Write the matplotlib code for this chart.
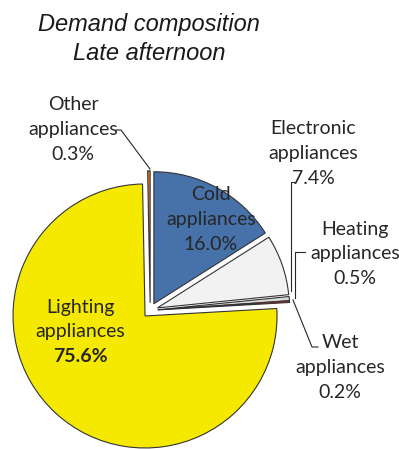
import matplotlib
matplotlib.use('Agg')
import matplotlib.pyplot as plt

# late afternoon demand shares, clockwise from 12 o'clock
names = ["Cold\nappliances", "Electronic\nappliances", "Heating\nappliances",
         "Wet\nappliances", "Lighting\nappliances", "Other\nappliances"]
shares = [16.0, 7.4, 0.5, 0.2, 75.6, 0.3]
colours = ["#4671a9", "#f2f2f2", "#d9d9d9", "#e8211e", "#f5e900", "#ee7f22"]

W, H = 399, 449


def px(x, y):
    # pixel coords (y down) -> axes data (y up)
    return x, H - y


fig = plt.figure(figsize=(W / 100, H / 100), dpi=100)
ax = fig.add_axes([0, 0, 1, 1])

# explode is in data units here (pixels)
ax.pie(shares, colors=colours, startangle=90, counterclock=False,
       explode=[7.6] * len(shares), center=px(150.2, 310.4), radius=132,
       wedgeprops=dict(edgecolor="#333333", linewidth=0.8))
ax.set_xlim(0, W)
ax.set_ylim(0, H)
ax.set_aspect("equal")
ax.axis("off")

# label anchor: centre x, first line y
label_pos = [(211, 194), (313, 128), (355, 229), (340, 343), (80, 307), (73, 104)]
step = 25
txt = dict(fontfamily="Lato", fontsize=14, color="#262626", ha="center", va="center")
for name, v, (x, y) in zip(names, shares, label_pos):
    lines = name.split("\n")
    for k, line in enumerate(lines):
        ax.text(*px(x, y + k * step), line, **txt)
    weight = "bold" if v > 50 else "normal"
    ax.text(*px(x, y + len(lines) * step), f"{v:.1f}%", fontweight=weight, **txt)

# leader lines
leaders = [
    [(116, 130), (121, 130), (150, 169)],
    [(294, 182), (291, 182), (291, 291)],
    [(305, 252), (295, 252), (295, 298)],
    [(293, 300), (312, 347), (318, 347)],
]
for pts in leaders:
    xs, ys = zip(*[px(a, b) for a, b in pts])
    ax.plot(xs, ys, color="#262626", lw=0.8)

ttl = dict(fontfamily="Liberation Sans", fontstyle="italic", fontsize=17,
           color="#1a1a1a", ha="center", va="center")
ax.text(*px(149, 24), "Demand composition", **ttl)
ax.text(*px(149, 54), "Late afternoon", **ttl)

fig.savefig("out.png", dpi=100)
